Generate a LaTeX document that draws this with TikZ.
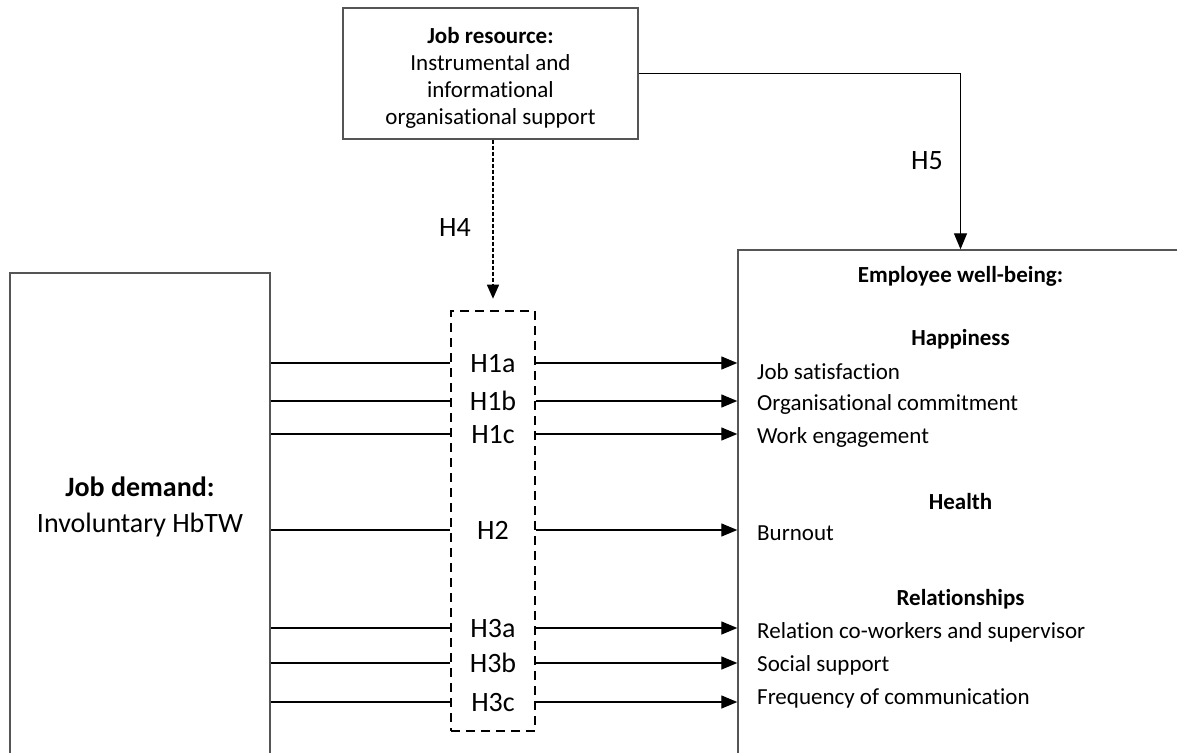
\documentclass[tikz,border=0pt]{standalone}
\usepackage{fontspec}
\setmainfont{Carlito}[RawFeature=-liga]
\usetikzlibrary{arrows.meta}
\definecolor{boxgray}{RGB}{85,85,85}
\begin{document}
\begin{tikzpicture}[x=1pt,y=-1pt,
  box/.style={draw=boxgray,line width=1.4pt,rectangle,inner sep=0pt},
  conn/.style={draw=black,line width=1.3pt},
  arr/.style={conn,-{Triangle[length=16pt,width=13pt]}},
  hlab/.style={font=\fontsize{28}{32}\selectfont,inner sep=0pt,text height=18pt,text depth=0pt},
  item/.style={font=\fontsize{23}{27}\selectfont,inner sep=0pt,text height=14.5pt,text depth=0pt,anchor=west},
  head/.style={item,font=\fontsize{23}{27}\selectfont\bfseries,anchor=center}
]
\useasboundingbox (0,0) rectangle (1177,752);
\clip (0,0) rectangle (1177,752);
\fill[white] (0,0) rectangle (1177,752);

% boxes
\node[box,minimum width=295pt,minimum height=131pt] (res) at (490.5,73.5) {};
\node[inner sep=0pt,align=center,font=\fontsize{23}{27}\selectfont] (restxt) at (490.5,77.5)
  {\textbf{Job resource:}\\Instrumental and\\informational\\organisational support};
\node[box,minimum width=260pt,minimum height=527pt] (demand) at (140,536.5) {};
\node[inner sep=0pt,align=center,font=\fontsize{28}{36}\selectfont] (demandtxt) at (140,507)
  {\textbf{Job demand:}\\Involuntary HbTW};
\node[box,minimum width=445pt,minimum height=550pt] (wb) at (960.5,525) {};
\node[draw=black,line width=2.6pt,dash pattern=on 9pt off 6pt,rectangle,inner sep=0pt,
      minimum width=84pt,minimum height=420pt] (hbox) at (493,521) {};

% hypothesis labels
\node[hlab] (h1a) at (493,363) {H1a};
\node[hlab] (h1b) at (493,401) {H1b};
\node[hlab] (h1c) at (493,434) {H1c};
\node[hlab] (h2)  at (493,530) {H2};
\node[hlab] (h3a) at (493,628) {H3a};
\node[hlab] (h3b) at (493,663) {H3b};
\node[hlab] (h3c) at (493,702) {H3c};
\node[hlab] (h4) at (455,227) {H4};
\node[hlab] (h5) at (927,160) {H5};

% well-being texts
\node[head] (ewb) at (960.5,275) {Employee well-being:};
\node[head] (hap) at (960.5,338) {Happiness};
\node[item] (js) at (757,372) {Job satisfaction};
\node[item] (oc) at (757,403) {Organisational commitment};
\node[item] (we) at (757,436) {Work engagement};
\node[head] (hea) at (960.5,502) {Health};
\node[item] (bo) at (757,533) {Burnout};
\node[head] (rel) at (960.5,598) {Relationships};
\node[item] (rcs) at (757,631) {Relation co-workers and supervisor};
\node[item] (ss) at (757,664) {Social support};
\node[item] (fc) at (757,697) {Frequency of communication};

% connectors
\foreach \h in {h1a,h1b,h1c,h2,h3a,h3b,h3c}{
  \draw[conn] (demand.east |- \h) -- (hbox.west |- \h);
  \draw[arr] (hbox.east |- \h) -- (wb.west |- \h);
}
\draw[arr] (res.east) -| (wb.north);
\draw[line width=1.5pt,dash pattern=on 4pt off 2pt,-{Triangle[length=14pt,width=12pt]}]
  (res.south -| hbox.north) -- ([yshift=11pt]hbox.north);
\end{tikzpicture}
\end{document}
